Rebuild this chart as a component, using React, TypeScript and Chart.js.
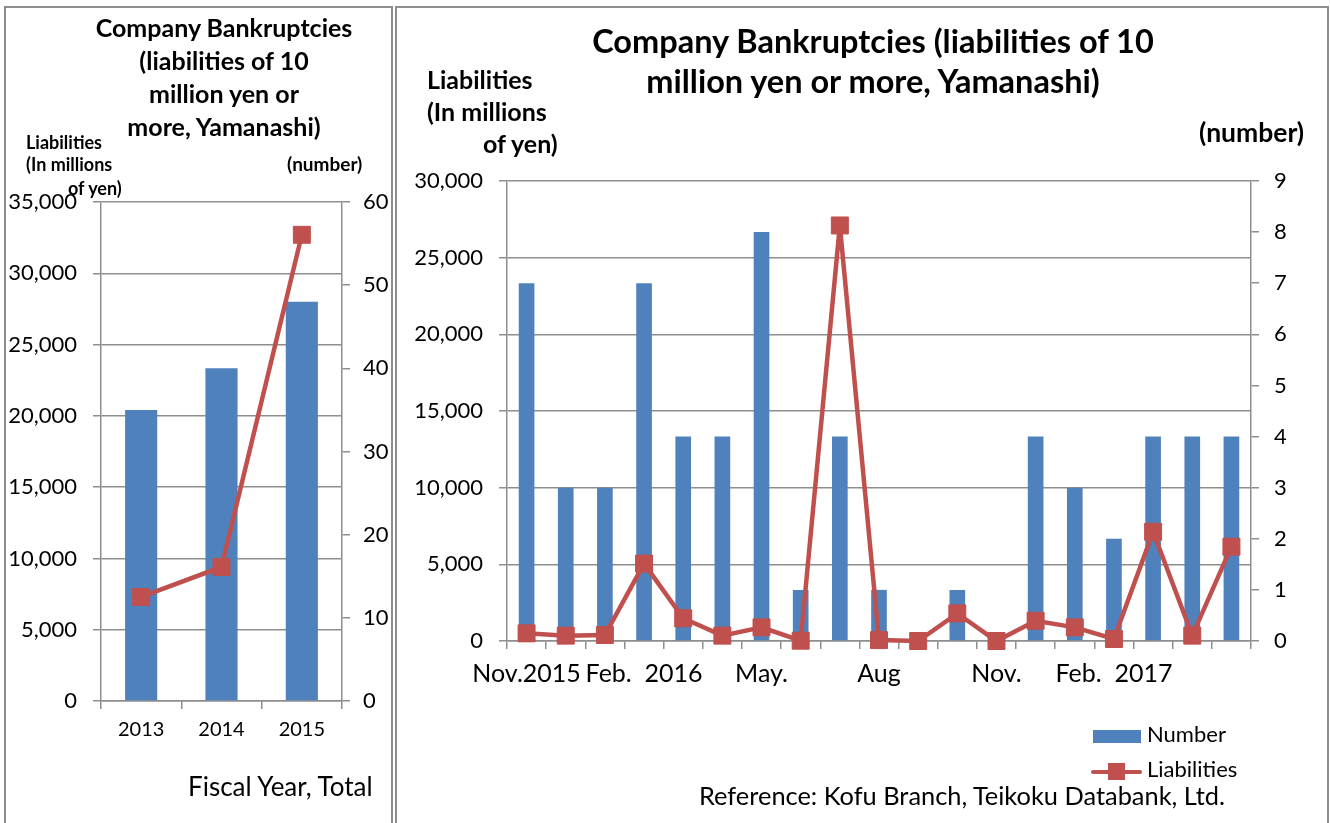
import React, { useEffect, useRef } from "react";
import { Chart, registerables } from "chart.js";
Chart.register(...registerables);

const FONT = "Lato, 'Open Sans', sans-serif";
const BLUE = "#4F81BD";
const RED = "#C0504D";
const GRID = "#8e8e8e";
const W = 1331;
const H = 823;

// ---- Left chart: fiscal year totals ----
const fyCategories = ["2013", "2014", "2015"];
const fyNumber = [35, 40, 48];
const fyLiabilities = [7300, 9400, 32700];
const fyLeftMax = 35000;
const fyLeftStep = 5000;
const fyRightMax = 60;
const fyRightStep = 10;

// ---- Right chart: monthly ----
const monthLabels = [
  "Nov.2015", "", "", "Feb.  2016", "", "", "May.", "", "", "Aug",
  "", "", "Nov.", "", "", "Feb.  2017", "", "", "",
];
const monthNumber = [7, 3, 3, 7, 4, 4, 8, 1, 4, 1, 0, 1, 0, 4, 3, 2, 4, 4, 4];
const monthLiabilities = [
  500, 350, 390, 5050, 1480, 350, 890, 20, 27100, 60,
  0, 1800, 0, 1320, 890, 130, 7120, 350, 6150,
];
const mLeftMax = 30000;
const mLeftStep = 5000;
const mRightMax = 9;
const mRightStep = 1;

const fmt = (v: any) => Number(v).toLocaleString("en-US");

function makeConfig(p: any): any {
  return {
    data: {
      labels: p.labels,
      datasets: [
        {
          type: "line",
          label: "Liabilities",
          data: p.line,
          yAxisID: "y",
          borderColor: RED,
          backgroundColor: RED,
          borderWidth: 4.5,
          pointStyle: "rect",
          pointRadius: p.pointRadius,
          pointBorderWidth: 1,
          pointBorderColor: RED,
          pointBackgroundColor: RED,
          clip: false,
          order: 0,
        },
        {
          type: "bar",
          label: "Number",
          data: p.bars,
          yAxisID: "y2",
          backgroundColor: BLUE,
          barPercentage: 0.4,
          categoryPercentage: 1,
          order: 1,
        },
      ],
    },
    options: {
      responsive: false,
      animation: false,
      events: [],
      layout: {
        padding: {
          left: 0,
          top: p.top,
          right: W - p.right - 60,
          bottom: H - p.bottom - 45,
        },
      },
      plugins: { legend: { display: false }, tooltip: { enabled: false } },
      scales: {
        x: {
          type: "category",
          offset: true,
          grid: {
            offset: true,
            drawOnChartArea: false,
            drawTicks: true,
            tickLength: 8,
            color: GRID,
            lineWidth: 1.5,
          },
          border: { color: GRID, width: 1.5 },
          ticks: {
            font: { family: FONT, size: p.xFont },
            color: "#000",
            padding: p.xPad,
            maxRotation: 0,
            minRotation: 0,
            autoSkip: false,
          },
          afterFit: (s: any) => {
            s.height = 45;
          },
        },
        y: {
          position: "left",
          min: 0,
          max: p.leftMax,
          ticks: {
            stepSize: p.leftStep,
            font: { family: FONT, size: 22 },
            color: "#000",
            padding: 16,
            callback: fmt,
          },
          grid: { color: GRID, lineWidth: 1.5, tickLength: 8 },
          border: { color: GRID, width: 1.5 },
          afterFit: (s: any) => {
            s.width = p.left;
          },
        },
        y2: {
          position: "right",
          min: 0,
          max: p.rightMax,
          ticks: {
            stepSize: p.rightStep,
            font: { family: FONT, size: 22 },
            color: "#000",
            padding: p.rPad,
            callback: fmt,
          },
          grid: { drawOnChartArea: false, color: GRID, lineWidth: 1.5, tickLength: 8 },
          border: { color: GRID, width: 1.5 },
          afterFit: (s: any) => {
            s.width = 60;
          },
        },
      },
    },
  };
}

function ChartCanvas({ cfg }: { cfg: any }) {
  const ref = useRef<HTMLCanvasElement | null>(null);
  useEffect(() => {
    if (!ref.current) return;
    const chart = new Chart(ref.current, cfg);
    return () => chart.destroy();
  }, []);
  return (
    <canvas
      ref={ref}
      width={W}
      height={H}
      style={{ position: "absolute", left: 0, top: 0, width: W, height: H }}
    />
  );
}

function T(props: any) {
  const { x, y, size, bold, align, children } = props;
  const k = 0.887;
  const style: any = {
    position: "absolute",
    top: y - k * size,
    fontFamily: FONT,
    fontSize: size,
    fontWeight: bold ? 700 : 400,
    lineHeight: `${size}px`,
    whiteSpace: "pre",
    color: "#000",
  };
  if (align === "center") {
    style.left = x - 400;
    style.width = 800;
    style.textAlign = "center";
  } else {
    style.left = x;
  }
  return <div style={style}>{children}</div>;
}

const leftCfg = makeConfig({
  labels: fyCategories,
  bars: fyNumber,
  line: fyLiabilities,
  leftMax: fyLeftMax,
  leftStep: fyLeftStep,
  rightMax: fyRightMax,
  rightStep: fyRightStep,
  left: 101,
  right: 342,
  top: 202,
  bottom: 701,
  xFont: 20,
  xPad: 9,
  rPad: 13,
  pointRadius: 12,
});

const rightCfg = makeConfig({
  labels: monthLabels,
  bars: monthNumber,
  line: monthLiabilities,
  leftMax: mLeftMax,
  leftStep: mLeftStep,
  rightMax: mRightMax,
  rightStep: mRightStep,
  left: 507,
  right: 1251,
  top: 181,
  bottom: 641,
  xFont: 25,
  xPad: 10,
  rPad: 15,
  pointRadius: 12,
});

export default function App() {
  return (
    <div
      style={{
        position: "absolute",
        left: 0,
        top: 0,
        width: W,
        height: H,
        overflow: "hidden",
        background: "#fff",
      }}
    >
      <div
        style={{
          position: "absolute",
          left: 4,
          top: 6,
          width: 389,
          height: 840,
          border: `2px solid ${GRID}`,
          boxSizing: "border-box",
        }}
      />
      <div
        style={{
          position: "absolute",
          left: 395,
          top: 6,
          width: 934,
          height: 840,
          border: `2px solid ${GRID}`,
          boxSizing: "border-box",
        }}
      />
      <ChartCanvas cfg={leftCfg} />
      <ChartCanvas cfg={rightCfg} />

      {/* Left panel texts */}
      <T x={224} y={37} size={25} bold align="center">Company Bankruptcies</T>
      <T x={224} y={70} size={25} bold align="center">(liabilities of 10</T>
      <T x={224} y={103} size={25} bold align="center">million yen or</T>
      <T x={224} y={136} size={25} bold align="center">more, Yamanashi)</T>
      <T x={26} y={149} size={18} bold>Liabilities</T>
      <T x={26} y={171} size={18} bold>(In millions</T>
      <T x={68} y={195} size={18} bold>of yen)</T>
      <T x={287} y={171} size={19} bold>(number)</T>
      <T x={188} y={796} size={26}>Fiscal Year, Total</T>

      {/* Right panel texts */}
      <T x={873} y={54} size={32.5} bold align="center">Company Bankruptcies (liabilities of 10</T>
      <T x={873} y={94} size={32.5} bold align="center">million yen or more, Yamanashi)</T>
      <T x={427} y={89} size={25} bold>Liabilities</T>
      <T x={427} y={121} size={25} bold>(In millions</T>
      <T x={483} y={153} size={25} bold>of yen)</T>
      <T x={1199} y={143} size={26.5} bold>(number)</T>

      {/* Legend */}
      <div style={{ position: "absolute", left: 1093, top: 730, width: 48, height: 13, background: BLUE }} />
      <T x={1147} y={743} size={22}>Number</T>
      <div style={{ position: "absolute", left: 1091, top: 770, width: 51, height: 4, background: RED, borderRadius: 2 }} />
      <div style={{ position: "absolute", left: 1108, top: 763, width: 17, height: 17, background: RED }} />
      <T x={1147} y={778} size={22}>Liabilities</T>

      <T x={699} y={806} size={25.4}>Reference: Kofu Branch, Teikoku Databank, Ltd.</T>
    </div>
  );
}
